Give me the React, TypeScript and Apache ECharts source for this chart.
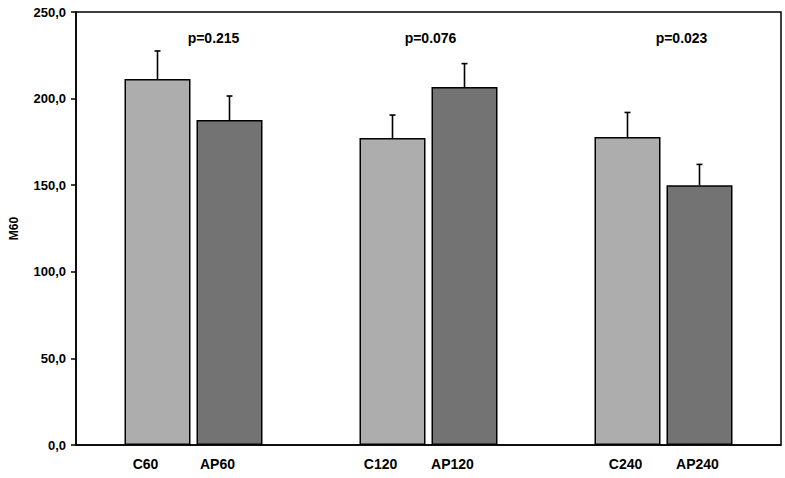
import React, { useEffect, useRef } from "react";
import * as echarts from "echarts";

const groups = ["60", "120", "240"];
const cLabels = ["C60", "C120", "C240"];
const apLabels = ["AP60", "AP120", "AP240"];
const cValues = [211.3, 177.2, 177.8];
const cErrors = [16.2, 13.3, 14.2];
const apValues = [187.6, 206.7, 150.0];
const apErrors = [13.9, 13.5, 12.0];
const pLabels = ["p=0.215", "p=0.076", "p=0.023"];
const pLabelY = [235, 235, 235];
const yTicks = { min: 0, max: 250, interval: 50 };
const yName = "M60";

// styling offsets (pixels)
const pLabelDx = [20, 2, 18];
const xLabelDx = [-12, -12, -2];

const BAR_W = 66;
const BAR_GAP = 6;

export default function App() {
  const ref = useRef<HTMLDivElement>(null);
  useEffect(() => {
    if (!ref.current) return;
    const chart = echarts.init(ref.current, null, { renderer: "svg" });
    const font = "'Liberation Sans', Arial, sans-serif";
    const errSeries = (vals: number[], errs: number[], sign: number) => ({
      type: "custom",
      z: 5,
      data: vals.map((v, i) => [i, v, v + errs[i]]),
      renderItem: (params: any, api: any) => {
        const i = api.value(0);
        const p0 = api.coord([i, api.value(1)]);
        const p1 = api.coord([i, api.value(2)]);
        const x = p0[0] + sign * (BAR_W + BAR_GAP) / 2;
        const st = { stroke: "#000", lineWidth: 1.6 };
        return {
          type: "group",
          children: [
            { type: "line", shape: { x1: x, y1: p0[1], x2: x, y2: p1[1] }, style: st },
            { type: "line", shape: { x1: x - 3, y1: p1[1], x2: x + 3, y2: p1[1] }, style: st },
          ],
        };
      },
    });
    const barLabel = (names: string[]) => ({
      show: true,
      position: "bottom",
      distance: 12,
      formatter: (p: any) => names[p.dataIndex],
      fontFamily: font, fontWeight: "bold", fontSize: 14, color: "#000",
    });
    chart.setOption({
      animation: false,
      backgroundColor: "#fff",
      grid: {
        left: 68, top: 12, right: 4, bottom: 33,
        show: true, borderColor: "#000", borderWidth: 1.5, backgroundColor: "transparent",
      },
      xAxis: {
        type: "category",
        data: groups,
        axisLine: { show: true, lineStyle: { color: "#000", width: 1.5 } },
        axisTick: { show: false },
        axisLabel: { show: false },
      },
      yAxis: {
        type: "value",
        min: yTicks.min, max: yTicks.max, interval: yTicks.interval,
        name: yName,
        nameLocation: "middle",
        nameGap: 56,
        nameTextStyle: { fontFamily: font, fontWeight: "bold", fontSize: 12, color: "#000" },
        axisLine: { show: true, lineStyle: { color: "#000", width: 1.5 } },
        axisTick: { show: true, inside: false, length: 5, lineStyle: { color: "#000", width: 1.5 } },
        splitLine: { show: false },
        axisLabel: {
          margin: 10,
          fontFamily: font, fontWeight: "bold", fontSize: 13, color: "#000",
          formatter: (v: number) => v.toFixed(1).replace(".", ","),
        },
      },
      series: [
        {
          type: "bar",
          data: cValues.map((v, i) => ({ value: v, label: { offset: [xLabelDx[i], 0] } })),
          barWidth: BAR_W,
          barGap: (BAR_GAP / BAR_W) * 100 + "%",
          itemStyle: { color: "#adadad", borderColor: "#000", borderWidth: 1.5 },
          label: barLabel(cLabels),
        },
        {
          type: "bar",
          data: apValues.map((v, i) => ({ value: v, label: { offset: [xLabelDx[i], 0] } })),
          barWidth: BAR_W,
          itemStyle: { color: "#737373", borderColor: "#000", borderWidth: 1.5 },
          label: barLabel(apLabels),
        },
        errSeries(cValues, cErrors, -1),
        errSeries(apValues, apErrors, 1),
        {
          type: "custom",
          data: pLabels.map((t, i) => [i, pLabelY[i]]),
          renderItem: (params: any, api: any) => {
            const p = api.coord([api.value(0), api.value(1)]);
            return {
              type: "text",
              x: p[0] + pLabelDx[params.dataIndex],
              y: p[1],
              style: {
                text: pLabels[params.dataIndex],
                fontFamily: font, fontWeight: "bold", fontSize: 14, fill: "#000",
                align: "center", verticalAlign: "middle",
              },
            };
          },
        },
      ],
    });
    return () => chart.dispose();
  }, []);
  return (
    <div
      ref={ref}
      style={{ position: "fixed", left: 0, top: 0, width: 785, height: 478 }}
    />
  );
}
